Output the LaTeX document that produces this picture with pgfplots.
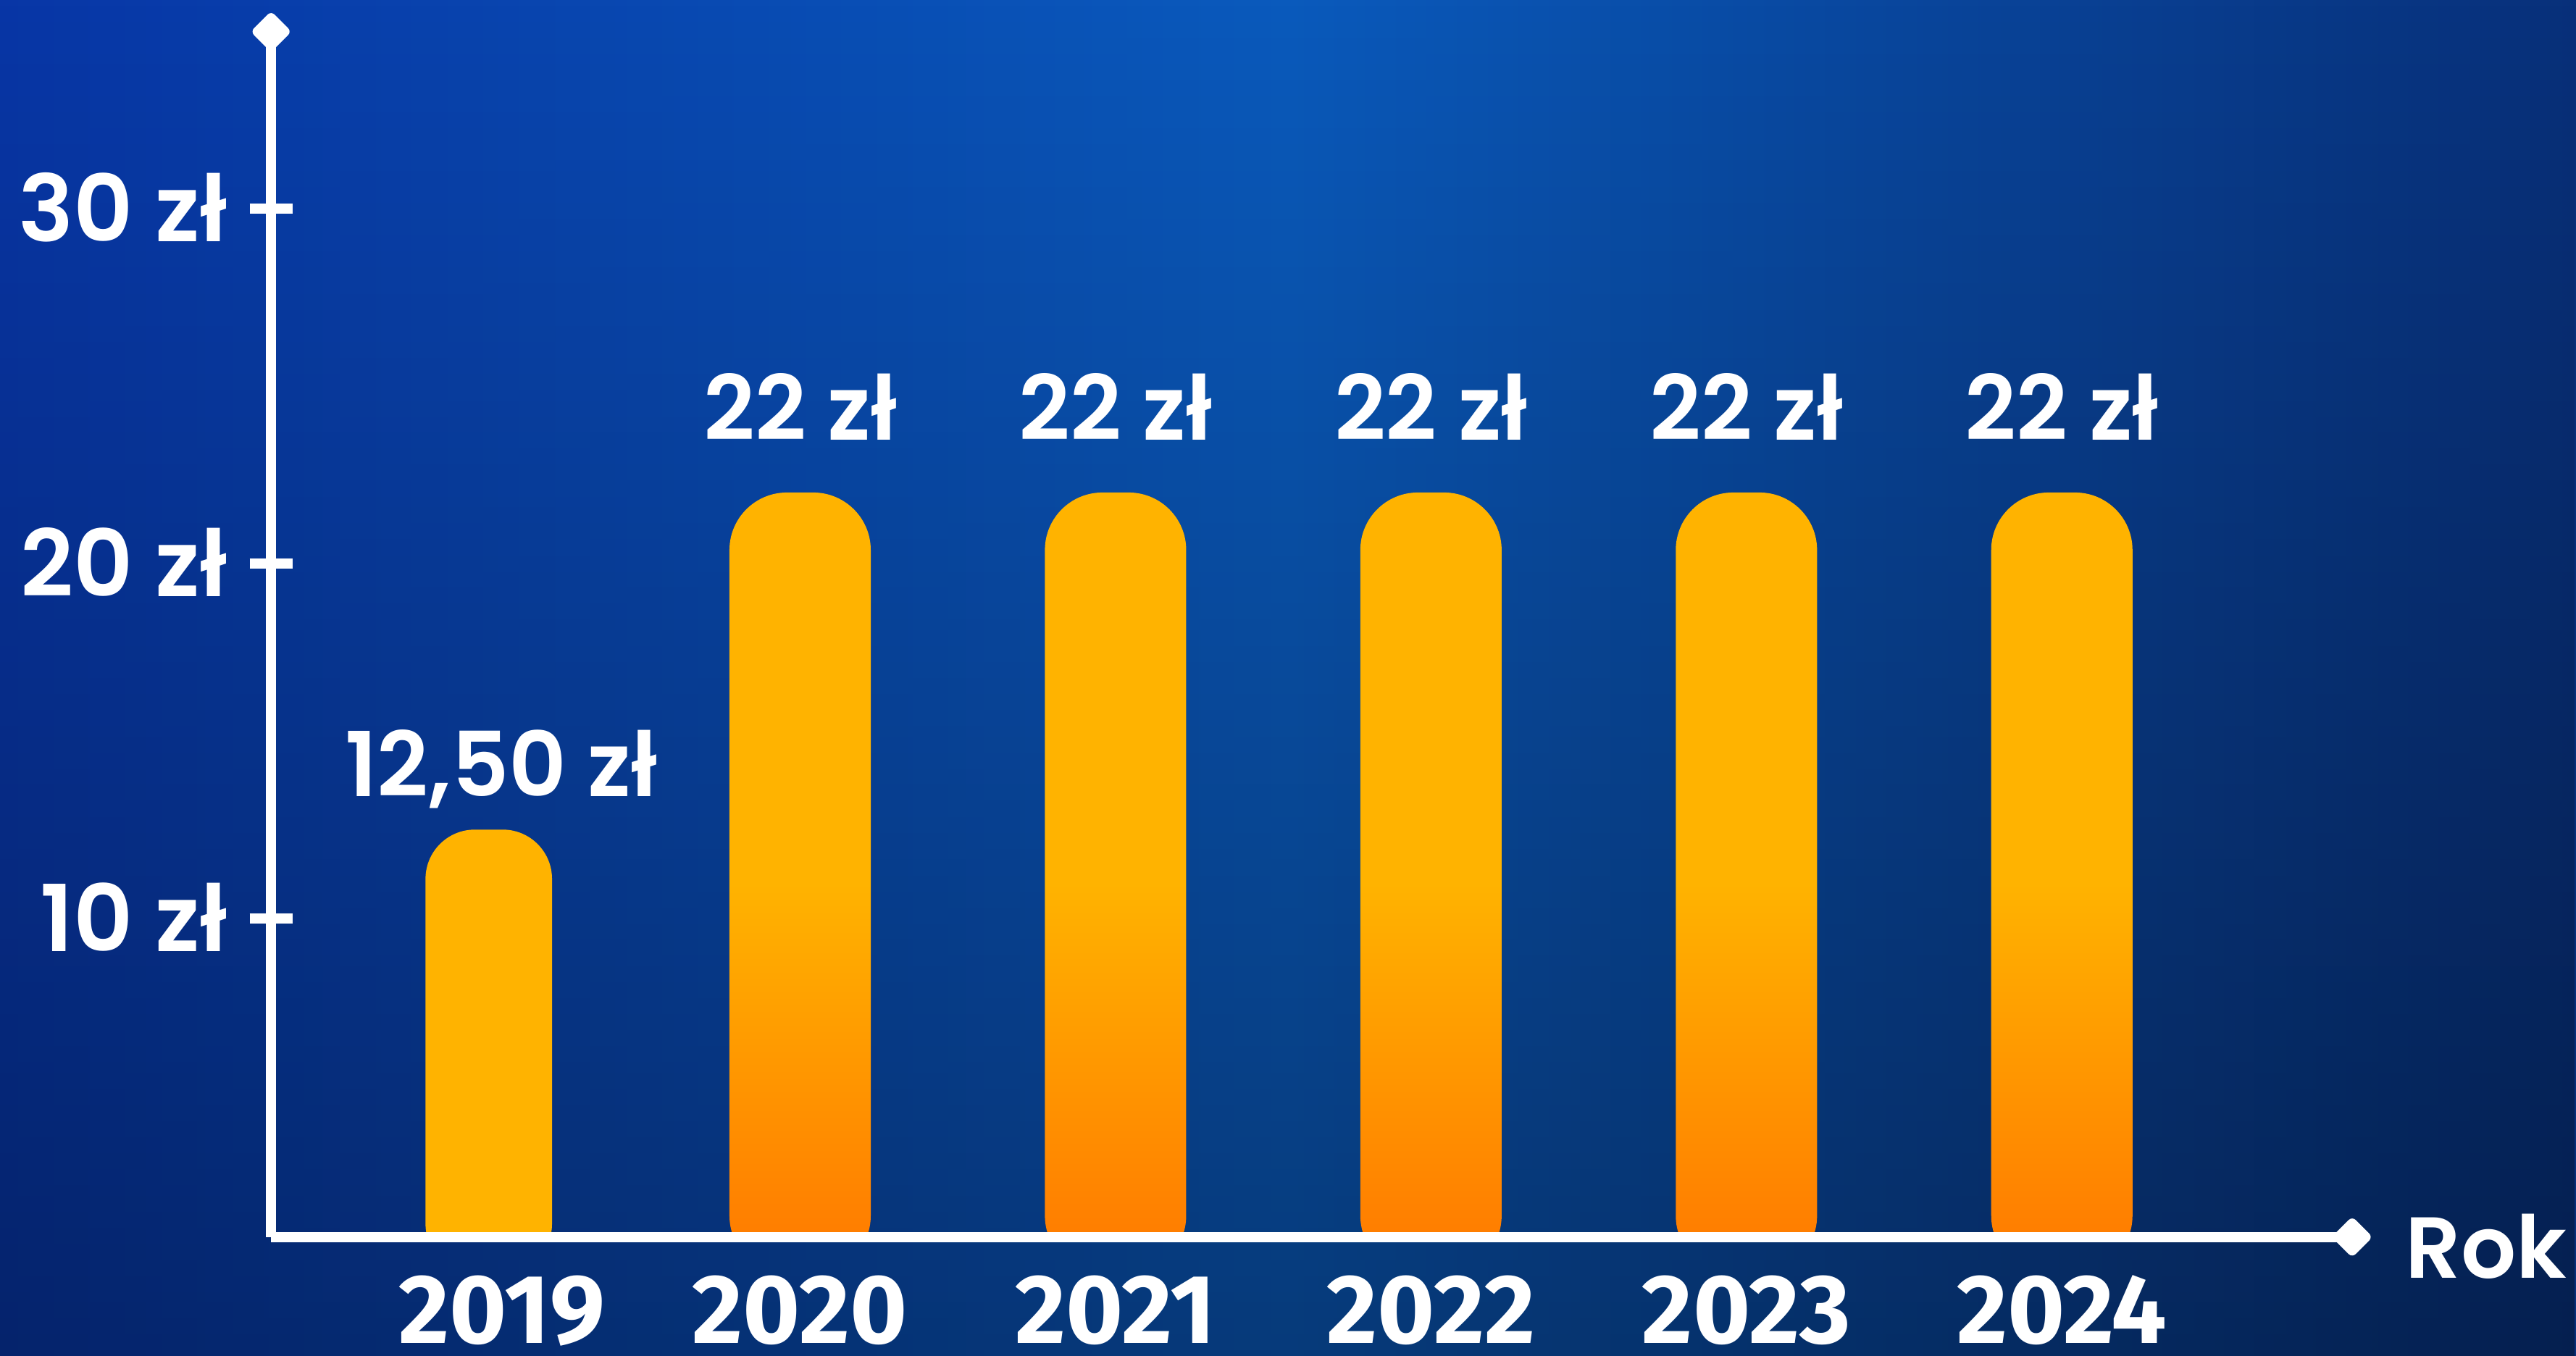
\documentclass[border=0pt]{standalone}
\usepackage{pgfplots}
\pgfplotsset{compat=1.18}
\usepackage{fontspec}
\setmainfont{Poppins}
\newfontfamily\sbfont{Poppins SemiBold}
\newfontfamily\yearfont{Fira Sans}
\usetikzlibrary{arrows.meta,fadings}
\definecolor{bgA}{HTML}{0836A6}
\definecolor{bgB}{HTML}{0A5ABC}
\definecolor{bgC}{HTML}{08307A}
\definecolor{barY}{HTML}{FFB300}
\definecolor{barO}{HTML}{FF7800}
\newcommand\bg{%
  \shade[left color=bgA, right color=bgC, middle color=bgB] (0,0) rectangle (31.36,16.5);
  \fill[black, opacity=0.35, path fading=north] (0,0) rectangle (31.36,16.5);}
\pgfplotsset{common/.style={
  scale only axis, width=25.56cm, xmin=-0.6771, xmax=5.979, ymax=35.51}}
\begin{document}
\begin{tikzpicture}
\bg
% bars (value 0 at the bottom of this axis)
\begin{axis}[common,
  at={(3.3cm,1.0cm)}, anchor=south west, height=15.34cm, ymin=0,
  hide axis, clip=false,
  point meta=explicit symbolic,
]
\addplot[ybar, bar shift=0.05cm, bar width=1.54cm, draw=none, fill=barY, rounded corners=0.6cm,
  nodes near coords,
  every node near coord/.append style={anchor=base, inner sep=0pt, xshift=0.2cm, yshift=0.4cm, text=white,
    font=\sbfont\fontsize{31}{33}\selectfont}]
  coordinates {(0,12.5) [12,50 zł]};
\addplot[ybar, bar shift=0pt, bar width=1.72cm, draw=none, top color=barY, bottom color=barO, middle color=barY,
  rounded corners=0.7cm,
  nodes near coords,
  every node near coord/.append style={anchor=base, inner sep=0pt, yshift=0.64cm, text=white,
    font=\sbfont\fontsize{31}{33}\selectfont}]
  coordinates {(1,22) [22 zł] (2,22) [22 zł] (3,22) [22 zł] (4,22) [22 zł] (5,22) [22 zł]};
\end{axis}
% background again below the x axis line
\begin{scope}
  \clip (0,0) rectangle (31.36,1.44);
  \bg
\end{scope}
% axes, ticks and labels
\begin{axis}[common,
  at={(3.3cm,1.44cm)}, anchor=south west, height=14.9cm, ymin=1.02,
  axis lines*=left,
  axis line style={white, line width=0.12cm, -{Diamond[round, length=0.5cm, width=0.5cm]}},
  xtick={0.055,1,2,3,4,5},
  xticklabels={2019,2020,2021,2022,2023,2024},
  ytick={10,20,30},
  yticklabels={10 zł,20 zł,30 zł},
  tick align=center,
  major tick length=0.52cm,
  xtick style={draw=none},
  ytick style={white, line width=0.12cm},
  yticklabel style={text=white, anchor=base east, inner sep=0pt, xshift=-0.27cm, yshift=-0.4cm,
    font=\sbfont\fontsize{32}{34}\selectfont},
  xticklabel style={text=white, anchor=base, inner sep=0pt, yshift=-1.03cm,
    font=\yearfont\bfseries\fontsize{34}{36}\selectfont},
  xlabel={Rok},
  xlabel style={at={(rel axis cs:1,0)}, anchor=base west, inner sep=0pt, xshift=0.42cm, yshift=-0.5cm,
    text=white, font=\sbfont\fontsize{30}{32}\selectfont},
]
\end{axis}
\pgfresetboundingbox
\path[use as bounding box] (0,0) rectangle (31.36,16.5);
\end{tikzpicture}
\end{document}
